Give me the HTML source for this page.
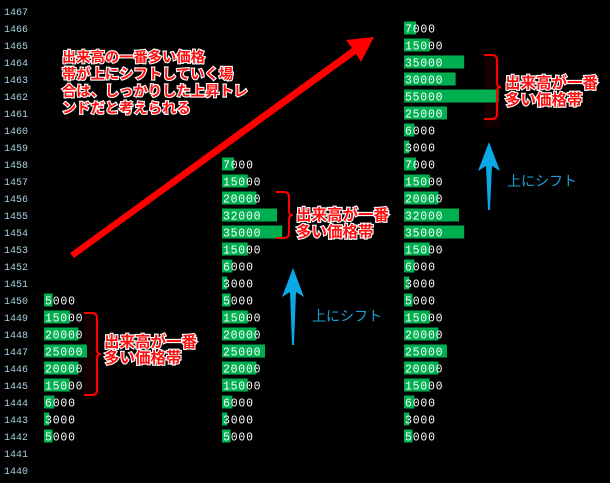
<!DOCTYPE html>
<html><head><meta charset="utf-8"><style>
html,body{margin:0;padding:0;background:#000;width:610px;height:483px;overflow:hidden}
svg text{font-family:"Liberation Mono",monospace}
.p{fill:#a8d0e0;font-size:10px}
.v{fill:#fff;font-size:11.5px}
.r{font-family:"Liberation Sans","Noto Sans CJK JP",sans-serif!important;fill:#ff1010;stroke:#fff;stroke-width:2.2px;paint-order:stroke;font-size:15.5px;font-weight:bold}
.t{font-size:14.3px}
.b{font-family:"Liberation Sans","Noto Sans CJK JP",sans-serif!important;fill:#1aa0d4;font-size:14px}
</style></head><body>
<svg id="s" width="610" height="483" xmlns="http://www.w3.org/2000/svg">
<rect x="84" y="313" width="16" height="83" fill="#140000"/>
<rect x="484" y="55" width="16" height="72" fill="#140000"/>
<g id="prices"></g><g id="bars"></g>
<path d="M84,313 h8 q5,0 5,5 v32 q0,4 4,4 q-4,0 -4,4 v32 q0,5 -5,5 h-8" fill="none" stroke="#f00" stroke-width="2"/>
<path d="M276,192 h8 q5,0 5,5 v14 q0,4 4,4 q-4,0 -4,4 v14 q0,5 -5,5 h-8" fill="none" stroke="#f00" stroke-width="2"/>
<path d="M484,55 h8 q5,0 5,5 v23 q0,4 4,4 q-4,0 -4,4 v23 q0,5 -5,5 h-8" fill="none" stroke="#f00" stroke-width="2"/>
<text class="r" x="104" y="347">出来高が一番</text>
<text class="r" x="104" y="363">多い価格帯</text>
<text class="r" x="296" y="220">出来高が一番</text>
<text class="r" x="296" y="237">多い価格帯</text>
<text class="r" x="505" y="88">出来高が一番</text>
<text class="r" x="505" y="105">多い価格帯</text>
<text class="r t" x="62" y="62">出来高の一番多い価格</text>
<text class="r t" x="62" y="79">帯が上にシフトしていく場</text>
<text class="r t" x="62" y="96">合は、しっかりした上昇トレ</text>
<text class="r t" x="62" y="113">ンドだと考えられる</text>
<polygon points="70,253 352,48 346,40 374,37 361,62 356,54 74,258" fill="#f00"/>
<polygon points="293,268 304,297 296,292 294,345 292,345 290,292 282,297" fill="#0aa8e4"/>
<polygon points="489,142 500,171 492,166 490,210 488,210 486,166 478,171" fill="#0aa8e4"/>
<text class="b" x="312" y="321">上にシフト</text>
<text class="b" x="507" y="186">上にシフト</text>
</svg>
<script>
var s=document.getElementById('prices'),b=document.getElementById('bars'),NS='http://www.w3.org/2000/svg';
function yc(p){return 11+17*(1467-p);}
for(var p=1467;p>=1440;p--){var t=document.createElementNS(NS,'text');t.setAttribute('class','p');t.setAttribute('x',4);t.setAttribute('y',yc(p)+4);t.textContent=p;s.appendChild(t);}
var base=[[1458,7000],[1457,15000],[1456,20000],[1455,32000],[1454,35000],[1453,15000],[1452,6000],[1451,3000],[1450,5000],[1449,15000],[1448,20000],[1447,25000],[1446,20000],[1445,15000],[1444,6000],[1443,3000],[1442,5000]];
var c1=base.slice(8),c2=base,c3=[[1466,7000],[1465,15000],[1464,35000],[1463,30000],[1462,55000],[1461,25000],[1460,6000],[1459,3000]].concat(base);
function col(x,d){d.forEach(function(e){var y=yc(e[0]);var r=document.createElementNS(NS,'rect');r.setAttribute('x',x);r.setAttribute('y',y-6.5);r.setAttribute('width',e[1]*0.00172);r.setAttribute('height',13);r.setAttribute('fill','#00b050');b.appendChild(r);var t=document.createElementNS(NS,'text');t.setAttribute('class','v');t.setAttribute('x',x+1);t.setAttribute('y',y+4.5);var s=String(e[1]);t.setAttribute('textLength',s.length*7.5);t.setAttribute('lengthAdjust','spacing');t.textContent=s;b.appendChild(t);});}
col(44,c1);col(222,c2);col(404,c3);
</script>
</body></html>
